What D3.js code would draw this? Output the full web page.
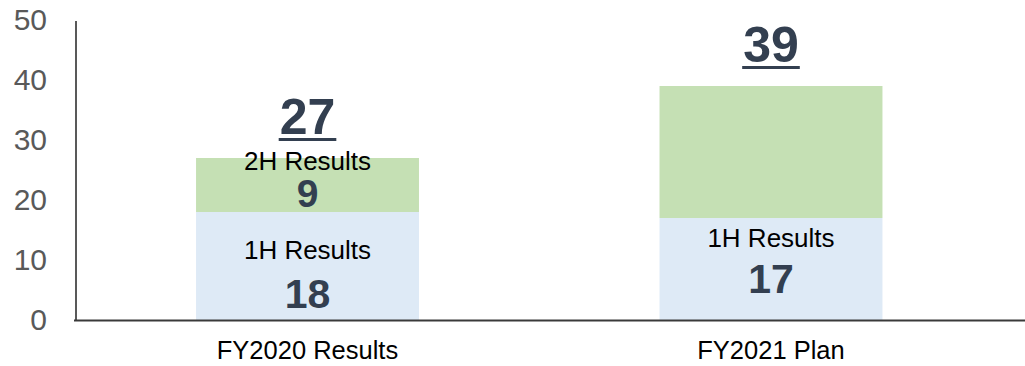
<!DOCTYPE html>
<html>
<head>
<meta charset="utf-8">
<script src="https://cdn.jsdelivr.net/npm/d3@7"></script>
<style>
  html, body { margin: 0; padding: 0; background: #fff; }
  svg { display: block; font-family: "Liberation Sans", Arial, sans-serif; }
</style>
</head>
<body>
<svg id="chart" width="1025" height="366"></svg>
<script>
// Stacked results: first half + second half per fiscal year
const categories = ["FY2020 Results", "FY2021 Plan"];
const firstHalf = [18, 17];
const secondHalf = [9, 22];
const totals = [27, 39];
const firstHalfNames = ["1H Results", "1H Results"];
const secondHalfNames = ["2H Results", ""];
const firstHalfShown = [true, true];
const secondHalfShown = [true, false];
const yTicks = [0, 10, 20, 30, 40, 50];

const colors = { first: "#DEEAF6", second: "#C5E0B4", value: "#333F50", name: "#000000", axis: "#595959" };

// Label placement inside each segment (pixels relative to the segment middle)
const firstLabelLayout = [{ name: -7, value: 42 }, { name: -22, value: 24 }];
const secondLabelLayout = [{ name: -15, value: 22 }, { name: -15, value: 22 }];

const svg = d3.select("#chart");

const y = d3.scaleLinear().domain([0, 50]).range([320, 20]);
const x = d3.scaleBand().domain(categories).range([76, 1002.5])
  .paddingInner(0.519).paddingOuter(0.259);

// Y axis
const yAxis = d3.axisLeft(y).tickValues(yTicks).tickSize(0).tickPadding(29);
const gy = svg.append("g").attr("transform", "translate(76,0)").call(yAxis);
gy.select(".domain").remove();
gy.selectAll("text")
  .attr("font-size", 30)
  .attr("fill", colors.axis)
  .attr("font-family", "'Liberation Sans', Arial, sans-serif");

svg.append("line")
  .attr("x1", 76).attr("x2", 76)
  .attr("y1", y(50) + 1).attr("y2", y(0))
  .attr("stroke", colors.axis).attr("stroke-width", 2);

// Bars
const rows = categories.map((c, i) => ({
  cat: c, first: firstHalf[i], second: secondHalf[i], total: totals[i], i
}));

const bars = svg.append("g");
bars.selectAll("rect.first").data(rows).join("rect")
  .attr("class", "first")
  .attr("x", d => x(d.cat)).attr("width", x.bandwidth())
  .attr("y", d => y(d.first)).attr("height", d => y(0) - y(d.first))
  .attr("fill", colors.first);

bars.selectAll("rect.second").data(rows).join("rect")
  .attr("class", "second")
  .attr("x", d => x(d.cat)).attr("width", x.bandwidth())
  .attr("y", d => y(d.first + d.second)).attr("height", d => y(d.first) - y(d.first + d.second))
  .attr("fill", colors.second);

// Baseline
svg.append("line")
  .attr("x1", 74).attr("x2", 1025)
  .attr("y1", y(0) + 0.5).attr("y2", y(0) + 0.5)
  .attr("stroke", "#3a3a3a").attr("stroke-width", 2);

// Segment labels
const labels = svg.append("g").attr("text-anchor", "middle");
rows.forEach(d => {
  const cx = x(d.cat) + x.bandwidth() / 2;
  if (firstHalfShown[d.i]) {
    const mid = (y(0) + y(d.first)) / 2;
    const lay = firstLabelLayout[d.i];
    labels.append("text").attr("x", cx).attr("y", mid + lay.name)
      .attr("font-size", 26).attr("fill", colors.name).text(firstHalfNames[d.i]);
    labels.append("text").attr("x", cx).attr("y", mid + lay.value)
      .attr("font-size", 41).attr("font-weight", "bold").attr("fill", colors.value).text(d.first);
  }
  if (secondHalfShown[d.i]) {
    const mid = (y(d.first) + y(d.first + d.second)) / 2;
    const lay = secondLabelLayout[d.i];
    labels.append("text").attr("x", cx).attr("y", mid + lay.name)
      .attr("font-size", 26).attr("fill", colors.name).text(secondHalfNames[d.i]);
    labels.append("text").attr("x", cx).attr("y", mid + lay.value)
      .attr("font-size", 39).attr("font-weight", "bold").attr("fill", colors.value).text(d.second);
  }
  // Underlined total above the stack
  const t = labels.append("text").attr("x", cx).attr("y", y(d.total) - 24.5)
    .attr("font-size", 50).attr("font-weight", "bold").attr("fill", colors.value).text(d.total);
  const w = t.node().getComputedTextLength();
  labels.append("line")
    .attr("x1", cx - w / 2 - 1).attr("x2", cx + w / 2 + 1)
    .attr("y1", y(d.total) - 24.5 + 6).attr("y2", y(d.total) - 24.5 + 6)
    .attr("stroke", colors.value).attr("stroke-width", 3);
});

// Category labels
svg.append("g").selectAll("text").data(categories).join("text")
  .attr("x", d => x(d) + x.bandwidth() / 2)
  .attr("y", 359)
  .attr("text-anchor", "middle")
  .attr("font-size", 25.5)
  .attr("fill", "#000")
  .text(d => d);
</script>
</body>
</html>
